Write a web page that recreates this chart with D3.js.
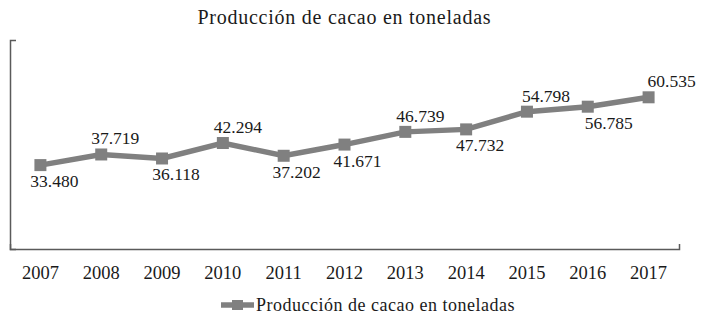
<!DOCTYPE html>
<html><head><meta charset="utf-8">
<script src="https://cdn.jsdelivr.net/npm/d3@7"></script>
<style>
html,body{margin:0;padding:0;background:#fff;}
svg{display:block;}
text{font-family:"Liberation Serif","DejaVu Serif",serif;fill:#1a1a1a;}
</style></head>
<body>
<svg id="chart" width="708" height="321"></svg>
<script>
const title = "Producción de cacao en toneladas";
const seriesName = "Producción de cacao en toneladas";
const years = ["2007","2008","2009","2010","2011","2012","2013","2014","2015","2016","2017"];
const production = [33480, 37719, 36118, 42294, 37202, 41671, 46739, 47732, 54798, 56785, 60535];
const labelSide = ["below","above","below","above","below","below","above","below","above","below","above"];
const labelDx = [14, 14, 14, 15, 13, 13, 15, 14, 19, 21, 23];

(function () {
const svg = d3.select("#chart");
const pLeft = 10, pRight = 679, pTop = 40, pBottom = 249;
const color = "#808080", axisColor = "#5a5a5a";

const x = d3.scaleBand().domain(years).range([pLeft, pRight]);
const y = d3.scaleLinear().domain([0, 83400]).range([pBottom, pTop]);
const cx = d => x(d) + x.bandwidth() / 2;

const locale = d3.formatLocale({decimal: ",", thousands: ".", grouping: [3], currency: ["", ""]});
const fmt = locale.format(",d");

function fitSpacing(sel, target) {
  sel.style("letter-spacing", "0px");
  const w = sel.node().getComputedTextLength();
  const n = sel.text().length;
  sel.style("letter-spacing", ((target - w) / n).toFixed(2) + "px");
}

const t = svg.append("text").attr("x", 344).attr("y", 24)
  .attr("text-anchor", "middle").style("font-size", "20px").text(title);
fitSpacing(t, 294);
t.attr("x", 344 + parseFloat(t.style("letter-spacing")) / 2);

const xAxis = svg.append("g").attr("transform", `translate(0,${pBottom})`)
  .call(d3.axisBottom(x).tickSize(0).tickSizeOuter(-5).tickPadding(17));
xAxis.attr("font-family", null).attr("font-size", null);
xAxis.select(".domain").attr("stroke", axisColor).attr("stroke-width", 1.5);
xAxis.selectAll("text").style("font-size", "18.5px").attr("fill", "#1a1a1a");

const yAxis = svg.append("g").attr("transform", `translate(${pLeft},0)`)
  .call(d3.axisLeft(y).tickValues([]).tickSizeOuter(-6));
yAxis.select(".domain").attr("stroke", axisColor).attr("stroke-width", 1.5);

const pts = years.map((yr, i) => ({yr, v: production[i], i}));

svg.append("path").datum(pts)
  .attr("fill", "none").attr("stroke", color).attr("stroke-width", 5.5)
  .attr("d", d3.line().x(d => cx(d.yr)).y(d => y(d.v)));

const ms = 12;
svg.selectAll("rect.m").data(pts).join("rect").attr("class", "m")
  .attr("x", d => cx(d.yr) - ms / 2).attr("y", d => y(d.v) - ms / 2)
  .attr("width", ms).attr("height", ms).attr("fill", color);

svg.selectAll("text.lbl").data(pts).join("text").attr("class", "lbl")
  .attr("x", d => cx(d.yr) + labelDx[d.i])
  .attr("y", d => y(d.v) + (labelSide[d.i] === "above" ? -10 : 22))
  .attr("text-anchor", "middle").style("font-size", "17.5px")
  .text(d => fmt(d.v));

const lg = svg.append("g");
lg.append("line").attr("x1", 221).attr("x2", 254).attr("y1", 305).attr("y2", 305)
  .attr("stroke", color).attr("stroke-width", 5.5);
lg.append("rect").attr("x", 232).attr("y", 300).attr("width", 11).attr("height", 10).attr("fill", color);
const lt = lg.append("text").attr("x", 256).attr("y", 311).style("font-size", "18px").text(seriesName);
fitSpacing(lt, 259);
})();
</script>
</body></html>
